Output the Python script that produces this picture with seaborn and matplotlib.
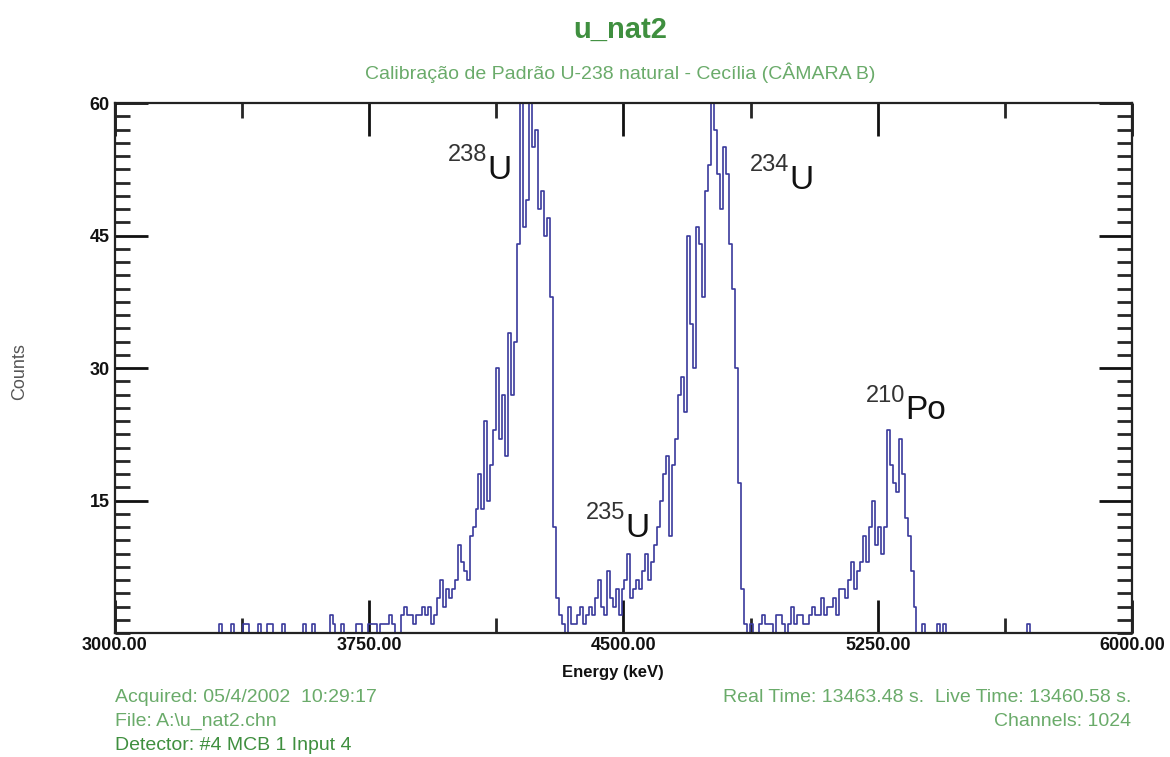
import numpy as np
import matplotlib
matplotlib.use('Agg')
from matplotlib import pyplot as plt
import seaborn as sns


"""Alpha spectrum u_nat2 - counts per group of 3 channels (1024 channels, 3000-6000 keV)"""
e_start = 3000.0
e_stop = 6000.0
n_channels = 1024
channels_per_bin = 3

counts = [
    0, 0, 0, 0, 0, 0, 0, 0, 0, 0,
    0, 0, 0, 0, 0, 0, 0, 0, 0, 0,
    0, 0, 0, 0, 0, 0, 0, 0, 0, 0,
    0, 0, 0, 0, 0, 1, 0, 0, 0, 1,
    0, 0, 0, 1, 1, 0, 0, 0, 1, 0,
    0, 1, 1, 0, 0, 0, 1, 0, 0, 0,
    0, 0, 0, 1, 0, 0, 1, 0, 0, 0,
    0, 0, 2, 1, 0, 0, 1, 0, 0, 0,
    0, 1, 1, 0, 0, 1, 1, 1, 0, 1,
    1, 1, 2, 1, 0, 0, 2, 3, 2, 2,
    1, 2, 2, 3, 2, 3, 1, 2, 4, 6,
    3, 5, 4, 5, 6, 10, 8, 7, 6, 11,
    12, 14, 18, 14, 24, 15, 19, 23, 30, 22,
    27, 20, 34, 27, 33, 44, 63, 46, 49, 63,
    55, 57, 48, 50, 45, 47, 38, 12, 4, 2,
    1, 0, 3, 1, 1, 2, 3, 1, 2, 3,
    2, 4, 6, 3, 2, 7, 4, 3, 5, 2,
    5, 6, 9, 4, 5, 6, 5, 7, 9, 6,
    8, 10, 12, 15, 18, 20, 11, 19, 22, 27,
    29, 25, 45, 35, 30, 46, 44, 38, 50, 53,
    63, 57, 52, 48, 55, 52, 44, 39, 30, 17,
    5, 1, 0, 1, 0, 0, 1, 2, 1, 1,
    1, 0, 2, 2, 1, 0, 1, 3, 1, 2,
    2, 1, 1, 2, 3, 2, 2, 4, 2, 3,
    3, 4, 2, 5, 5, 4, 6, 8, 5, 7,
    8, 11, 8, 12, 15, 10, 12, 9, 12, 23,
    19, 17, 16, 22, 18, 13, 11, 7, 3, 0,
    0, 1, 0, 0, 0, 0, 1, 0, 1, 0,
    0, 0, 0, 0, 0, 0, 0, 0, 0, 0,
    0, 0, 0, 0, 0, 0, 0, 0, 0, 0,
    0, 0, 0, 0, 0, 0, 1, 0, 0, 0,
    0, 0, 0, 0, 0, 0, 0, 0, 0, 0,
    0, 0, 0, 0, 0, 0, 0, 0, 0, 0,
    0, 0, 0, 0, 0, 0, 0, 0, 0, 0,
    0,
]

x_ticks = [3000, 3750, 4500, 5250, 6000]
x_minor = [3375, 4125, 4875, 5625]
y_ticks = [15, 30, 45, 60]

# peak labels: (mass number, element, energy, counts)
peak_labels = [
    ('238', 'U', 3982, 53.4),
    ('235', 'U', 4389, 12.9),
    ('234', 'U', 4873, 52.3),
    ('210', 'Po', 5215, 26.2),
]

title = 'u_nat2'
subtitle = 'Calibração de Padrão U-238 natural - Cecília (CÂMARA B)'
info_left = ['Acquired: 05/4/2002  10:29:17', 'File: A:\\u_nat2.chn', 'Detector: #4 MCB 1 Input 4']
info_right = ['Real Time: 13463.48 s.  Live Time: 13460.58 s.', 'Channels: 1024']

kev_per_bin = (e_stop - e_start) / n_channels * channels_per_bin
energy = e_start + kev_per_bin * np.arange(len(counts))

sns.set_style('ticks')
plt.rcParams['font.family'] = ['Liberation Sans', 'DejaVu Sans']

W, H = 1170, 757
fig = plt.figure(figsize=(W / 100, H / 100), dpi=100)
ax = fig.add_axes([115 / W, 1 - 633 / H, (1132 - 115) / W, (633 - 103) / H])

sns.lineplot(x=energy, y=counts, ax=ax, drawstyle='steps-post',
             color='#3a3a9c', linewidth=1.2)

ax.set_xlim(e_start, e_stop)
ax.set_ylim(0, 60)
ax.set_xticks(x_ticks)
ax.set_xticklabels([f'{t:.2f}' for t in x_ticks])
ax.set_xticks(x_minor, minor=True)
ax.set_yticks(y_ticks)
ax.set_yticks(np.arange(0, 60, 1.5), minor=True)
ax.set_xlabel('')
ax.set_ylabel('')

for side in ax.spines.values():
    side.set_linewidth(1.6)
    side.set_color('#222222')

ax.tick_params(axis='both', which='major', direction='in', width=2, length=24,
               top=True, right=True, labelsize=13, pad=4, colors='#111111')
ax.tick_params(axis='x', which='major', pad=3)
ax.tick_params(axis='both', which='minor', direction='in', width=2, length=11,
               top=True, right=True)
for lab in ax.get_xticklabels() + ax.get_yticklabels():
    lab.set_fontweight('bold')

for num, elem, e, c in peak_labels:
    t = ax.text(e, c, num, fontsize=17, color='#333333', ha='left', va='baseline')
    fig.canvas.draw()
    bb = t.get_window_extent().transformed(ax.transData.inverted())
    ax.text(bb.x1, c - 2.0, elem, fontsize=24, color='#111111', ha='left', va='baseline')

green = '#3f8f3f'
light_green = '#6aab6a'
fig.text(620 / W, 1 - 30 / H, title, ha='center', va='center', fontsize=21,
         fontweight='bold', color=green)
fig.text(620 / W, 1 - 73 / H, subtitle, ha='center', va='center', fontsize=14,
         color=light_green)

fig.text(613 / W, 1 - 672 / H, 'Energy (keV)', ha='center', va='center', fontsize=12,
         fontweight='bold', color='#111111')
fig.text(20 / W, 1 - 372 / H, 'Counts', ha='center', va='center', rotation=90,
         fontsize=13, color='#555555')

for k, line in enumerate(info_left):
    col = green if k == 2 else light_green
    fig.text(115 / W, 1 - (697 + 24 * k) / H, line, ha='left', va='center',
             fontsize=14, color=col)
for k, line in enumerate(info_right):
    fig.text(1131 / W, 1 - (697 + 24 * k) / H, line, ha='right', va='center',
             fontsize=14, color=light_green)

fig.savefig('out.png', dpi=100, facecolor='white')
